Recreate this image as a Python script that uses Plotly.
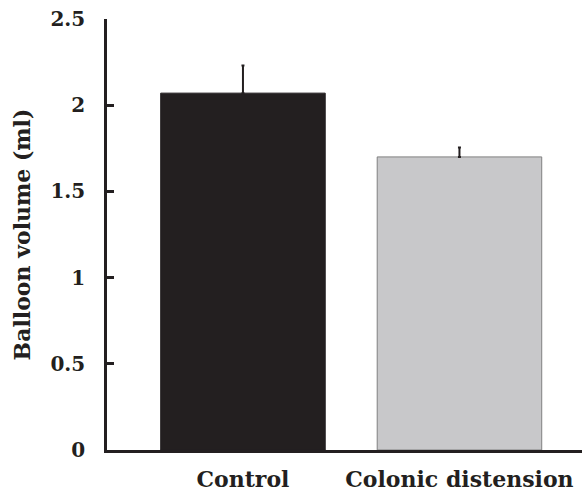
import plotly.graph_objects as go

categories = ["Control", "Colonic distension"]
values = [2.07, 1.70]
errors_up = [0.16, 0.055]
bar_colors = ["#231f20", "#c8c8ca"]
bar_edge_colors = ["#231f20", "#808080"]
y_ticks = [0, 0.5, 1, 1.5, 2, 2.5]
y_tick_labels = ["<b>0</b>", "<b>0.5</b>", "<b>1</b>", "<b>1.5</b>", "<b>2</b>", "<b>2.5</b>"]
x_tick_labels = ["<b>" + c + "</b>" for c in categories]

font_family = "DejaVu Serif"
ink = "#231f20"

fig = go.Figure()
fig.add_trace(go.Bar(
    x=categories,
    y=values,
    width=0.76,
    marker=dict(color=bar_colors, line=dict(color=bar_edge_colors, width=1)),
    error_y=dict(type="data", symmetric=False, array=errors_up,
                 arrayminus=[0] * len(errors_up), color=ink,
                 thickness=2, width=1.5),
    showlegend=False,
))

fig.update_layout(
    width=582, height=495,
    margin=dict(l=107, r=0, t=19, b=45, autoexpand=False),
    plot_bgcolor="white", paper_bgcolor="white",
    font=dict(family=font_family, color=ink, size=20),
    xaxis=dict(
        range=[-0.628, 1.566],
        tickvals=categories, ticktext=x_tick_labels,
        showline=True, linecolor=ink, linewidth=2.5,
        ticks="", showgrid=False, zeroline=False, automargin=False,
        tickfont=dict(family=font_family, size=22, color=ink),
        ticklabelstandoff=8,
    ),
    yaxis=dict(
        range=[0, 2.5],
        tickvals=y_ticks, ticktext=y_tick_labels,
        showline=True, linecolor=ink, linewidth=2.5,
        ticks="inside", ticklen=7, tickwidth=2.5, tickcolor=ink,
        showgrid=False, zeroline=False, automargin=False,
        tickfont=dict(family=font_family, size=20, color=ink),
        ticklabelstandoff=15,
        title=dict(text="<b>Balloon volume (ml)</b>", standoff=14,
                   font=dict(family=font_family, size=22, color=ink)),
    ),
)

fig.write_html("out.html")
